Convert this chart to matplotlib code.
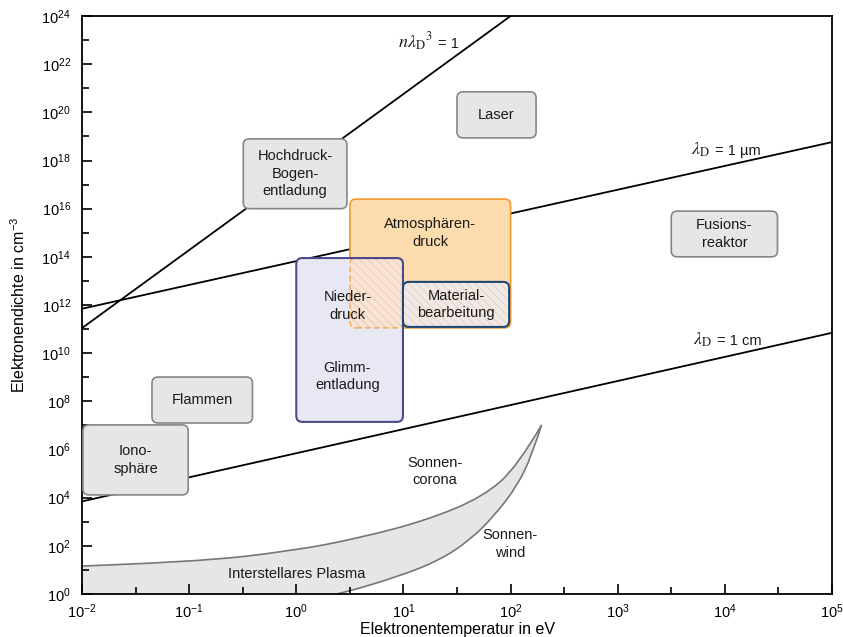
import matplotlib.pyplot as plt
import numpy as np
from matplotlib.patches import FancyBboxPatch, PathPatch
from matplotlib.path import Path
from matplotlib.ticker import FixedLocator, NullFormatter

plt.rcParams['font.family'] = ['Liberation Sans', 'DejaVu Sans']
plt.rcParams['mathtext.fontset'] = 'custom'
plt.rcParams['mathtext.rm'] = 'Liberation Sans'
plt.rcParams['mathtext.it'] = 'Liberation Sans:italic'
plt.rcParams['mathtext.bf'] = 'Liberation Sans:bold'
plt.rcParams['hatch.linewidth'] = 0.6

# Debye-Linien (Endpunkte, T in eV, n in cm^-3)
nld3_T = [1e-2, 1e2]
nld3_n = [1.1e11, 1e24]
ld_um_T = [1e-2, 1e5]
ld_um_n = [7e11, 5.8e18]
ld_cm_T = [1e-2, 1e5]
ld_cm_n = [7e3, 7e10]

# Sonnenwind / interstellares Plasma
band_upper_T = [0.008, 0.11, 0.93, 3.94, 16.6, 55, 115, 195]
band_upper_n = [14, 21, 62, 214, 1170, 1.07e4, 1.86e5, 1.05e7]
band_lower_T = [195, 158, 117, 71.6, 41.8, 21.9, 9.3, 2.56, 1.26]
band_lower_n = [1.05e7, 5.9e5, 3.4e4, 1900, 174, 25.7, 5.6, 1.0, 0.5]

# graue Bereiche: Name, T-Bereich, n-Bereich
gray_names = ["Hochdruck-\nBogen-\nentladung", "Laser", "Fusions-\nreaktor",
              "Flammen", "Iono-\nsphäre"]
gray_T = [(0.32, 2.97), (31.6, 173), (3.16e3, 3.1e4), (0.045, 0.39), (0.0102, 0.098)]
gray_n = [(1.0e16, 7.9e18), (8.7e18, 7.1e20), (1.0e14, 7.9e15), (1.26e7, 1.02e9),
          (1.3e4, 1.05e7)]

atm_T, atm_n = (3.17, 100), (1.12e11, 2.5e16)
nd_T, nd_n = (1.0, 9.9), (1.4e7, 8.9e13)
mat_T, mat_n = (9.9, 97), (1.23e11, 9.1e12)
ovl_T, ovl_n = (3.17, 9.9), (1.12e11, 8.9e13)

fig = plt.figure(figsize=(8.43, 6.37), dpi=100)
ax = fig.add_axes([82 / 843, 1 - 594 / 637, 750 / 843, 578 / 637])
ax.set_xscale('log')
ax.set_yscale('log')
ax.set_xlim(1e-2, 1e5)
ax.set_ylim(1e0, 1e24)

to_axes = ax.transScale + ax.transLimits
w_px = ax.get_position().width * fig.get_figwidth() * fig.dpi
h_px = ax.get_position().height * fig.get_figheight() * fig.dpi


def rounded_box(T, n, radius=6, **kw):
    (x0, y0), (x1, y1) = to_axes.transform([[T[0], n[0]], [T[1], n[1]]])
    p = FancyBboxPatch((x0, y0), x1 - x0, y1 - y0,
                       boxstyle=f"round,pad=0,rounding_size={radius / w_px}",
                       mutation_aspect=w_px / h_px, transform=ax.transAxes, **kw)
    ax.add_patch(p)
    return p


def center(T, n):
    return np.sqrt(T[0] * T[1]), np.sqrt(n[0] * n[1])


def smooth_curve(T, n):
    # quadratische Bezier-Stücke durch die (logarithmischen) Mittelpunkte
    pts = np.log10(np.column_stack([T, n]))
    verts, codes = [pts[0]], []
    for i in range(1, len(pts) - 1):
        end = pts[-1] if i == len(pts) - 2 else (pts[i] + pts[i + 1]) / 2
        verts += [pts[i], end]
        codes += [Path.CURVE3, Path.CURVE3]
    return 10 ** np.array(verts), codes


lw_line = 1.3
ax.plot(nld3_T, nld3_n, color='black', lw=lw_line, zorder=2)
ax.plot(ld_um_T, ld_um_n, color='black', lw=lw_line, zorder=2)
ax.plot(ld_cm_T, ld_cm_n, color='black', lw=lw_line, zorder=2)

up_v, up_c = smooth_curve(band_upper_T, band_upper_n)
lo_v, lo_c = smooth_curve(band_lower_T, band_lower_n)
band_verts = np.vstack([up_v, lo_v[1:], [[band_upper_T[0], band_lower_n[-1]]], up_v[:1]])
band_codes = [Path.MOVETO] + up_c + lo_c + [Path.LINETO, Path.CLOSEPOLY]
ax.add_patch(PathPatch(Path(band_verts, band_codes), facecolor='#e6e6e8',
                       edgecolor='#777777', lw=1.2, zorder=1.5))

txt = dict(ha='center', va='center', fontsize=10.5, color='#1a1a1a', zorder=6,
           linespacing=1.3)

for name, T, n in zip(gray_names, gray_T, gray_n):
    rounded_box(T, n, facecolor='#e6e6e8', edgecolor='#878787', lw=1.2, zorder=3)
    ax.text(*center(T, n), name, **txt)

# Atmosphärendruck
rounded_box(atm_T, atm_n, facecolor='#fcdbad', edgecolor='#f29a30', lw=1.2, zorder=3)
ax.text(np.sqrt(atm_T[0] * atm_T[1]), 9.8e14, "Atmosphären-\ndruck", **txt)

# Niederdruck / Glimmentladung
rounded_box(nd_T, nd_n, facecolor='#e8e8f4', edgecolor='none', zorder=3.1)
rounded_box(ovl_T, ovl_n, facecolor='#f7e4d6', edgecolor='#f4c69c', lw=0,
            hatch='\\\\\\\\', zorder=3.2)
rounded_box(ovl_T, ovl_n, fill=False, edgecolor='#f5a64c', lw=1.0,
            linestyle=(0, (4, 2.5)), zorder=3.3)
rounded_box(nd_T, nd_n, fill=False, edgecolor='#4b4b8c', lw=1.5, zorder=3.4)
ax.text(3.0, 9e11, "Nieder-\ndruck", **txt)
ax.text(3.0, 1.1e9, "Glimm-\nentladung", **txt)

# Materialbearbeitung
rounded_box(mat_T, mat_n, facecolor='#eeeaea', edgecolor='#f4cda8', lw=0,
            hatch='\\\\\\\\', zorder=3.5)
rounded_box(mat_T, mat_n, fill=False, edgecolor='#1c4a78', lw=1.5, zorder=3.6)
ax.text(*center(mat_T, mat_n), "Material-\nbearbeitung", **txt)

# Beschriftungen der Debye-Linien: Formel links, Wert rechts vom Ankerpunkt
debye_labels = [(r'$n\lambda_{\mathrm{D}}{}^{3}$', '= 1', 19.7, 4.7e22),
                (r'$\lambda_{\mathrm{D}}$', '= 1 µm', 7600, 1.7e18),
                (r'$\lambda_{\mathrm{D}}$', '= 1 cm', 7900, 2.2e10)]
for formula, value, T, n in debye_labels:
    ax.annotate(formula, (T, n), xytext=(-1.5, 0), textcoords='offset points',
                ha='right', va='baseline', fontsize=13, math_fontfamily='stix',
                color='#1a1a1a', zorder=6)
    ax.annotate(value, (T, n), xytext=(2, 0), textcoords='offset points',
                ha='left', va='baseline', fontsize=10.5, color='#1a1a1a', zorder=6)

ax.text(19.7, 1.2e5, "Sonnen-\ncorona", **txt)
ax.text(99, 1.2e2, "Sonnen-\nwind", **txt)
ax.text(1.0, 6.8, "Interstellares Plasma", **txt)

# Achsen
ax.xaxis.set_major_locator(FixedLocator([10.0 ** k for k in range(-2, 6)]))
ax.xaxis.set_minor_locator(FixedLocator([10.0 ** (k + 0.5) for k in range(-2, 5)]))
ax.yaxis.set_major_locator(FixedLocator([10.0 ** k for k in range(0, 25, 2)]))
ax.yaxis.set_minor_locator(FixedLocator([10.0 ** k for k in range(1, 24, 2)]))
ax.xaxis.set_minor_formatter(NullFormatter())
ax.yaxis.set_minor_formatter(NullFormatter())
ax.set_xticklabels([f'$10^{{{k}}}$' for k in range(-2, 6)])
ax.set_yticklabels([f'$10^{{{k}}}$' for k in range(0, 25, 2)])
ax.tick_params(which='both', direction='in', top=False, right=False, width=1.2,
               labelsize=10.5)
ax.tick_params(axis='y', pad=8)
ax.tick_params(axis='x', pad=6)
ax.tick_params(which='major', length=7)
ax.tick_params(which='minor', length=5)
for s in ax.spines.values():
    s.set_linewidth(1.3)

ax.set_xlabel('Elektronentemperatur in eV', fontsize=11.5, labelpad=1)
ax.set_ylabel('Elektronendichte in cm$^{-3}$', fontsize=11.5, labelpad=10)

fig.savefig('out.png', dpi=100)
